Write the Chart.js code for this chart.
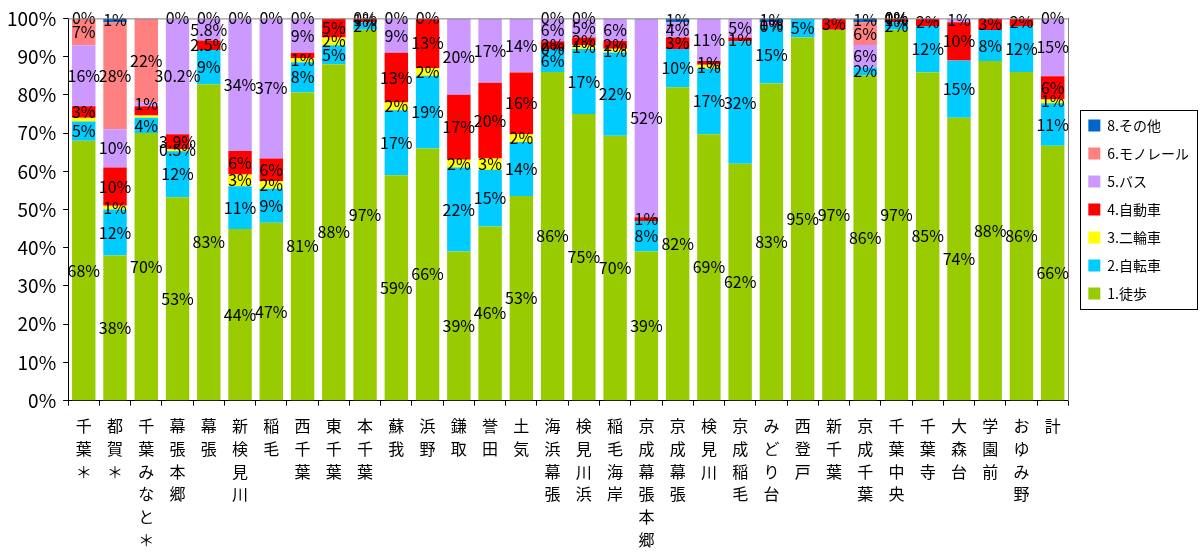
<!DOCTYPE html>
<html lang="ja">
<head>
<meta charset="utf-8">
<title>駅別 端末交通手段構成</title>
<script src="https://cdn.jsdelivr.net/npm/chart.js@4.4.1/dist/chart.umd.min.js"></script>
<style>
  html, body { margin: 0; padding: 0; background: #fff; }
  #wrap { width: 1201px; height: 553px; }
</style>
</head>
<body>
<div id="wrap"><canvas id="modeChart"></canvas></div>
<script>
const stations = ['千葉＊', '都賀＊', '千葉みなと＊', '幕張本郷', '幕張', '新検見川', '稲毛', '西千葉', '東千葉', '本千葉',
  '蘇我', '浜野', '鎌取', '誉田', '土気', '海浜幕張', '検見川浜', '稲毛海岸', '京成幕張本郷', '京成幕張',
  '検見川', '京成稲毛', 'みどり台', '西登戸', '新千葉', '京成千葉', '千葉中央', '千葉寺', '大森台', '学園前', 'おゆみ野', '計'];

// share of each mode (%), as printed on the bars
const walk = [68, 38, 70, 53, 83, 44, 47, 81, 88, 97, 59, 66, 39, 46, 53, 86, 75, 70, 39, 82, 69, 62, 83, 95, 97, 86, 97, 85, 74, 88, 86, 66];
const bike = [5, 12, 4, 12, 9, 11, 9, 8, 5, 2, 17, 19, 22, 15, 14, 6, 17, 22, 8, 10, 17, 32, 15, 5, null, 2, 2, 12, 15, 8, 12, 11];
const moped = [1, 1, 0.6, 0.5, null, 3, 2, 1, 2, null, 2, 2, 2, 3, 2, 0, 1, 1, null, null, 1, null, null, null, null, null, null, null, null, null, null, 1];
const car = [3, 10, 2.4, 3.9, 2.5, 6, 6, 1.5, 5, 1, 13, 13, 17, 20, 16, 2, 2, 2, 1, 3, 1, 1, 0, null, 3, null, 1, 2, 10, 3, 2, 6];
const bus = [16, 10, 1, 30.2, 5.8, 34, 37, 9, null, null, 9, null, 20, 17, 14, 6, 5, 6, 52, 4, 11, 5, 1, null, null, 6, 0, null, 1, null, null, 15];
const monorail = [7, 28, 22, null, null, null, null, null, null, null, null, null, null, null, null, null, null, null, null, null, null, null, null, null, null, 6, null, null, null, null, null, null];
const other = [0, 1, null, 0, 0, 0, 0, 0, null, 0, 0, 0, null, null, null, 0, 0, null, null, 1, null, null, 1, null, null, 1, 0, null, null, null, null, 0];

const seriesNames = ['1.徒歩', '2.自転車', '3.二輪車', '4.自動車', '5.バス', '6.モノレール', '8.その他'];
const seriesColors = ['#99CC00', '#00CCFF', '#FFFF00', '#FF0000', '#CC99FF', '#FF8080', '#0066CC'];
const seriesValues = [walk, bike, moped, car, bus, monorail, other];

// slivers that carry no label in the original ([series, station])
const unlabeled = [[2, 0], [2, 2], [3, 2], [3, 7]];

const FONT = '"Noto Sans CJK JP", "Noto Sans", sans-serif';

// 100% stacked: every column is scaled to its own total
const totals = stations.map((_, i) => seriesValues.reduce((s, arr) => s + (arr[i] || 0), 0));

const datasets = seriesValues.map((values, si) => ({
  label: seriesNames[si],
  rawValues: values,
  data: values.map((v, i) => v === null ? null : v / totals[i] * 100),
  backgroundColor: seriesColors[si],
  borderWidth: 0,
  barPercentage: 0.75,
  categoryPercentage: 1.0
}));

const valueLabels = {
  id: 'valueLabels',
  afterDatasetsDraw(chart) {
    const ctx = chart.ctx;
    ctx.save();
    ctx.font = '16px ' + FONT;
    ctx.fillStyle = '#000';
    ctx.textAlign = 'center';
    ctx.textBaseline = 'middle';
    chart.data.datasets.forEach((ds, si) => {
      chart.getDatasetMeta(si).data.forEach((bar, i) => {
        const v = ds.rawValues[i];
        if (v === null) return;
        if (unlabeled.some(([s, c]) => s === si && c === i)) return;
        ctx.fillText(v + '%', bar.x, (bar.y + bar.base) / 2);
      });
    });
    ctx.restore();
  }
};

const frame = {
  id: 'frame',
  afterDraw(chart) {
    const ctx = chart.ctx;
    const area = chart.chartArea;
    ctx.save();
    ctx.strokeStyle = '#808080';
    ctx.lineWidth = 1;
    ctx.beginPath();
    ctx.moveTo(area.left, area.top + 0.5);
    ctx.lineTo(area.right, area.top + 0.5);
    ctx.stroke();

    // box round the legend
    const boxes = chart.legend.legendHitBoxes;
    if (boxes && boxes.length) {
      const left = Math.min(...boxes.map(b => b.left));
      const top = Math.min(...boxes.map(b => b.top));
      const right = Math.max(...boxes.map(b => b.left + b.width));
      const bottom = Math.max(...boxes.map(b => b.top + b.height));
      ctx.strokeStyle = '#000';
      ctx.strokeRect(Math.round(left - 8) + 0.5, Math.round(top - 9) + 0.5,
        Math.round(right - left + 16), Math.round(bottom - top + 17));
    }
    ctx.restore();
  }
};

new Chart(document.getElementById('modeChart'), {
  type: 'bar',
  data: {
    labels: stations.map(s => Array.from(s)),
    datasets: datasets
  },
  options: {
    responsive: true,
    maintainAspectRatio: false,
    animation: false,
    layout: { padding: { top: 5, right: 2, bottom: -7, left: 0 } },
    plugins: {
      legend: {
        position: 'right',
        fullSize: false,
        reverse: true,
        labels: {
          boxWidth: 12,
          boxHeight: 12,
          padding: 14,
          color: '#000',
          font: { family: FONT, size: 14 }
        }
      },
      tooltip: { enabled: false }
    },
    scales: {
      x: {
        stacked: true,
        grid: { offset: true, drawOnChartArea: false, tickLength: 5, color: '#000' },
        border: { color: '#000' },
        ticks: {
          autoSkip: false,
          maxRotation: 0,
          minRotation: 0,
          color: '#000',
          padding: 9,
          font: { family: FONT, size: 16, lineHeight: 1.42 }
        }
      },
      y: {
        stacked: true,
        min: 0,
        max: 100,
        grid: { drawOnChartArea: false, tickLength: 5, color: '#000' },
        border: { color: '#000' },
        ticks: {
          stepSize: 10,
          color: '#000',
          padding: 7,
          font: { family: FONT, size: 19 },
          callback: v => v + '%'
        }
      },
      yRight: {
        position: 'right',
        min: 0,
        max: 100,
        grid: { display: false, drawTicks: false },
        border: { display: true, color: '#808080' },
        ticks: { display: false },
        afterFit(scale) { scale.width = 6; }
      }
    }
  },
  plugins: [valueLabels, frame]
});
</script>
</body>
</html>
